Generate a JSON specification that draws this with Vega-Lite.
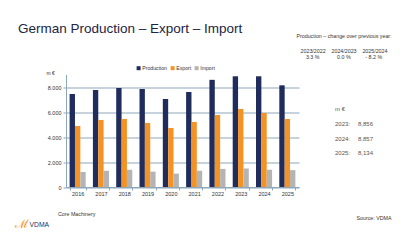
{
  "$schema": "https://vega.github.io/schema/vega-lite/v6.json",
  "background": "white",
  "padding": {"left": 15, "top": 21.5, "right": 0, "bottom": 0},
  "config": {"font": "Liberation Sans", "view": {"stroke": null}},
  "datasets": {
    "trade": [
      {"year": "2016", "series": "Production", "value": 7440},
      {"year": "2017", "series": "Production", "value": 7760},
      {"year": "2018", "series": "Production", "value": 7920},
      {"year": "2019", "series": "Production", "value": 7840},
      {"year": "2020", "series": "Production", "value": 7040},
      {"year": "2021", "series": "Production", "value": 7600},
      {"year": "2022", "series": "Production", "value": 8573},
      {"year": "2023", "series": "Production", "value": 8856},
      {"year": "2024", "series": "Production", "value": 8857},
      {"year": "2025", "series": "Production", "value": 8134},
      {"year": "2016", "series": "Export", "value": 4880},
      {"year": "2017", "series": "Export", "value": 5360},
      {"year": "2018", "series": "Export", "value": 5440},
      {"year": "2019", "series": "Export", "value": 5120},
      {"year": "2020", "series": "Export", "value": 4720},
      {"year": "2021", "series": "Export", "value": 5200},
      {"year": "2022", "series": "Export", "value": 5760},
      {"year": "2023", "series": "Export", "value": 6240},
      {"year": "2024", "series": "Export", "value": 5920},
      {"year": "2025", "series": "Export", "value": 5440},
      {"year": "2016", "series": "Import", "value": 1200},
      {"year": "2017", "series": "Import", "value": 1300},
      {"year": "2018", "series": "Import", "value": 1380},
      {"year": "2019", "series": "Import", "value": 1230},
      {"year": "2020", "series": "Import", "value": 1070},
      {"year": "2021", "series": "Import", "value": 1300},
      {"year": "2022", "series": "Import", "value": 1450},
      {"year": "2023", "series": "Import", "value": 1480},
      {"year": "2024", "series": "Import", "value": 1380},
      {"year": "2025", "series": "Import", "value": 1350}
    ],
    "summary": [
      {"label": "m €"},
      {"label": "2023:", "production": 8856},
      {"label": "2024:", "production": 8857},
      {"label": "2025:", "production": 8134}
    ]
  },
  "title": {
    "text": "ℳ",
    "orient": "bottom",
    "anchor": "start",
    "frame": "bounds",
    "dx": -3,
    "offset": -9.5,
    "fontSize": 12,
    "fontWeight": "normal",
    "color": "#F39325"
  },
  "vconcat": [
    {
      "title": {
        "text": "VDMA",
        "orient": "bottom",
        "anchor": "start",
        "frame": "bounds",
        "dx": 11.5,
        "offset": 1,
        "fontSize": 6.8,
        "fontWeight": "normal",
        "color": "#1F3264"
      },
      "bounds": "flush",
      "spacing": 36,
      "hconcat": [
        {
          "width": 233,
          "height": 112.5,
          "data": {"name": "trade"},
          "title": {
            "text": "German Production – Export – Import",
            "anchor": "start",
            "frame": "group",
            "dx": -48,
            "offset": 34.5,
            "fontSize": 13.5,
            "fontWeight": "normal",
            "color": "#1C2541"
          },
          "mark": {"type": "bar"},
          "encoding": {
            "x": {
              "field": "year",
              "type": "nominal",
              "scale": {"paddingInner": 0.31, "paddingOuter": 0.155},
              "axis": {
                "labelAngle": 0,
                "tickBand": "extent",
                "tickSize": 3,
                "tickColor": "#8DA7BA",
                "domainColor": "#8DA7BA",
                "labelFontSize": 5.5,
                "labelColor": "#333333",
                "labelPadding": 1.5,
                "grid": false,
                "title": "Core Machinery",
                "titleX": -8.5,
                "titleY": 26.5,
                "titleAlign": "left",
                "titleBaseline": "middle",
                "titleFontSize": 5.3,
                "titleFontWeight": "normal",
                "titleColor": "#333333"
              }
            },
            "xOffset": {
              "field": "series",
              "type": "nominal",
              "sort": ["Production", "Export", "Import"],
              "scale": {"paddingInner": 0, "paddingOuter": 0}
            },
            "y": {
              "field": "value",
              "type": "quantitative",
              "scale": {"domain": [0, 9000], "nice": false},
              "axis": {
                "values": [0, 2000, 4000, 6000, 8000],
                "labelExpr": "replace(format(datum.value, ',d'), ',', '.')",
                "labelFontSize": 5.5,
                "labelColor": "#333333",
                "labelPadding": 2,
                "tickSize": 3,
                "tickColor": "#8DA7BA",
                "domainColor": "#8DA7BA",
                "grid": true,
                "gridColor": "#8DA7BA",
                "title": "m €",
                "titleAngle": 0,
                "titleX": -20,
                "titleY": -2.5,
                "titleAlign": "left",
                "titleBaseline": "middle",
                "titleFontSize": 5,
                "titleFontWeight": "normal",
                "titleColor": "#333333"
              }
            },
            "color": {
              "field": "series",
              "type": "nominal",
              "scale": {
                "domain": ["Production", "Export", "Import"],
                "range": ["#1F2C5C", "#F39325", "#B4B4B4"]
              },
              "legend": {
                "title": null,
                "orient": "none",
                "direction": "horizontal",
                "legendX": 70,
                "legendY": -9,
                "symbolType": "square",
                "symbolSize": 16,
                "symbolStrokeWidth": 0,
                "labelFontSize": 5.2,
                "labelColor": "#333333",
                "labelOffset": 1,
                "columnPadding": 2
              }
            }
          }
        },
        {
          "width": 23,
          "height": 112.5,
          "data": {"name": "summary"},
          "title": {
            "text": "Production – change over previous year:",
            "subtitle": [
              "2023/2022\u00a0\u00a0\u00a0\u00a02024/2023\u00a0\u00a0\u00a0\u00a02025/2024",
              "3.3 %\u00a0\u00a0\u00a0\u00a0\u00a0\u00a0\u00a0\u00a0\u00a0\u00a0\u00a0\u00a00.0 %\u00a0\u00a0\u00a0\u00a0\u00a0\u00a0\u00a0\u00a0\u00a0\u00a0- 8.2 %"
            ],
            "anchor": "middle",
            "frame": "group",
            "dx": -2.5,
            "offset": 14.2,
            "fontSize": 5.3,
            "fontWeight": "normal",
            "color": "#333333",
            "subtitleFontSize": 5.3,
            "subtitleColor": "#333333",
            "subtitlePadding": 9.8,
            "subtitleLineHeight": 6
          },
          "layer": [
            {
              "mark": {"type": "text", "align": "left", "baseline": "middle", "fontSize": 6, "color": "#555555"},
              "encoding": {
                "x": {
                  "datum": "label",
                  "type": "nominal",
                  "scale": {"type": "point", "domain": ["label", "value"], "padding": 0},
                  "axis": {
                    "labels": false,
                    "ticks": false,
                    "domain": false,
                    "grid": false,
                    "title": "Source: VDMA",
                    "titleX": 56,
                    "titleY": 30.5,
                    "titleAlign": "right",
                    "titleBaseline": "middle",
                    "titleFontSize": 5.3,
                    "titleFontWeight": "normal",
                    "titleColor": "#333333"
                  }
                },
                "y": {
                  "field": "label",
                  "type": "ordinal",
                  "scale": {"type": "point", "domain": ["m €", "2023:", "2024:", "2025:"], "range": [34.5, 78.8], "padding": 0},
                  "axis": null
                },
                "text": {"field": "label"}
              }
            },
            {
              "transform": [{"filter": "isValid(datum.production)"}],
              "mark": {"type": "text", "align": "left", "baseline": "middle", "fontSize": 6, "color": "#555555"},
              "encoding": {
                "x": {"datum": "value", "type": "nominal"},
                "y": {"field": "label", "type": "ordinal"},
                "text": {"field": "production", "type": "quantitative", "format": ",d"}
              }
            }
          ]
        }
      ]
    }
  ]
}
